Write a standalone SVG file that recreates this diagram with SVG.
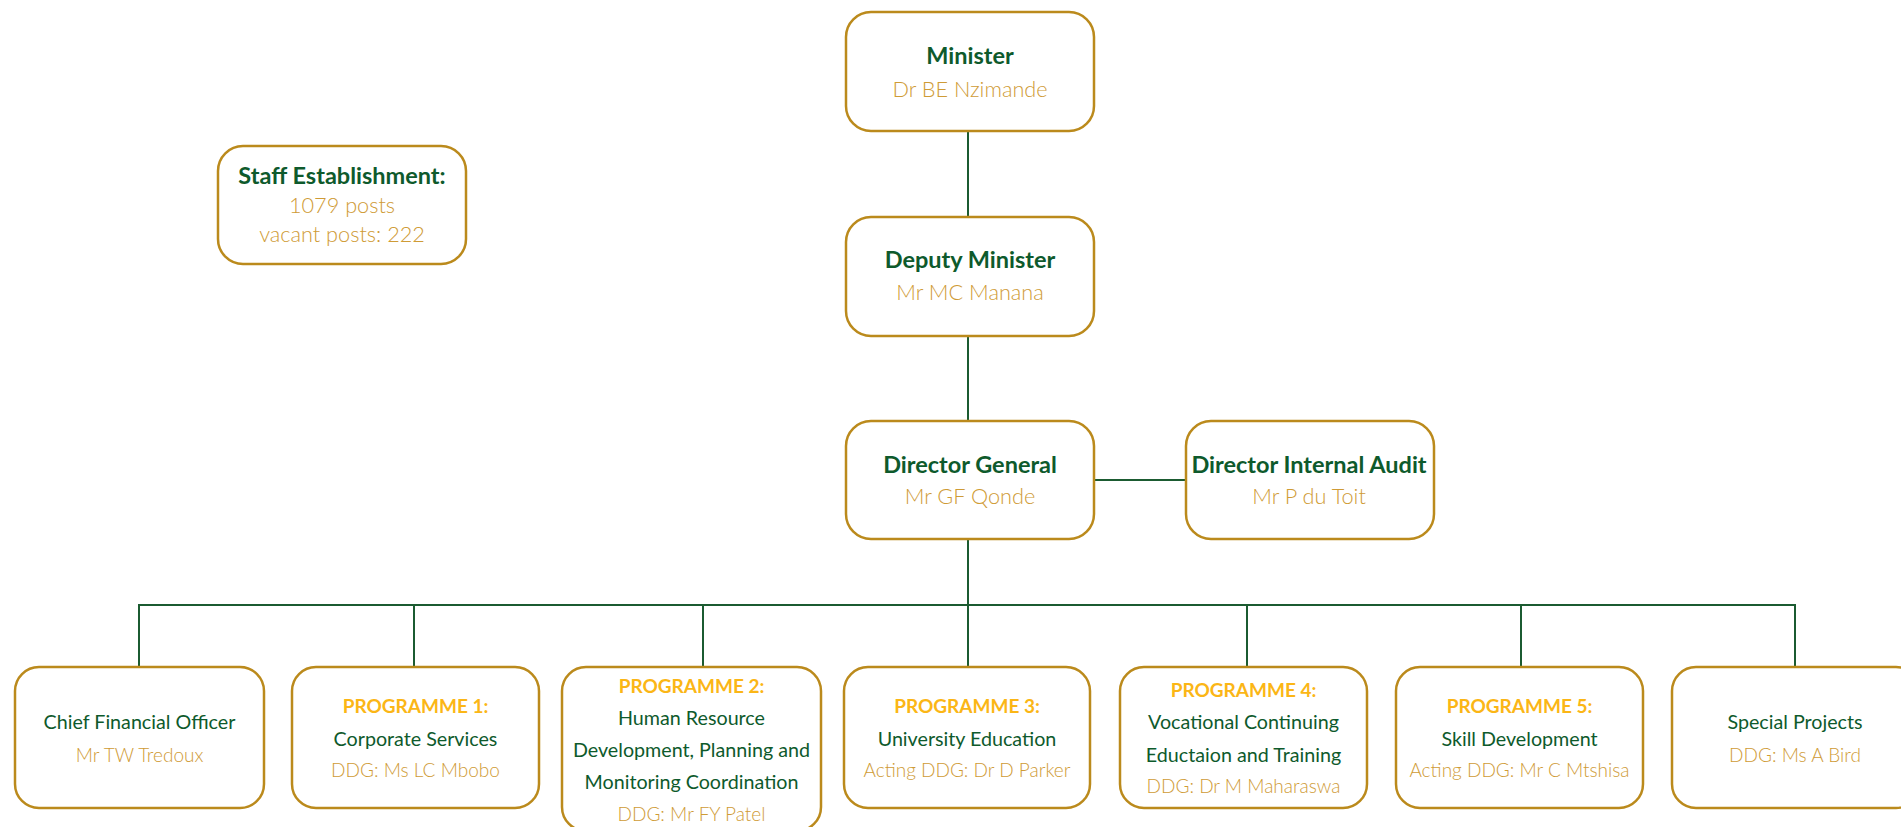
<svg xmlns="http://www.w3.org/2000/svg" width="1901" height="827" viewBox="0 0 1901 827">
  <style>
    .box { fill: #ffffff; stroke: #bb8a1c; stroke-width: 2.5; }
    .wire { fill: none; stroke: #1b5b31; stroke-width: 2; }
    text { font-family: Lato, "Liberation Sans", sans-serif; text-anchor: middle; }
    .head { font-size: 23.5px; font-weight: 700; fill: #0e5a2c; }
    .who { font-size: 21.7px; font-weight: 300; fill: #cf9b36; }
    .title { font-size: 19.7px; font-weight: 400; fill: #0e5a2c; }
    .prog { font-size: 19px; font-weight: 700; fill: #fbb616; }
    .ddg { font-size: 19px; font-weight: 300; fill: #cf9b36; }
  </style>

  <!-- reporting lines -->
  <g id="connectors">
    <line class="wire" x1="968" y1="131" x2="968" y2="217"/>
    <line class="wire" x1="968" y1="336" x2="968" y2="421"/>
    <line class="wire" x1="1094" y1="480" x2="1186" y2="480"/>
    <line class="wire" x1="968" y1="539" x2="968" y2="667"/>
    <polyline class="wire" points="139,667 139,605 1795,605 1795,667"/>
    <line class="wire" x1="414" y1="605" x2="414" y2="667"/>
    <line class="wire" x1="703" y1="605" x2="703" y2="667"/>
    <line class="wire" x1="1247" y1="605" x2="1247" y2="667"/>
    <line class="wire" x1="1521" y1="605" x2="1521" y2="667"/>
  </g>

  <g id="minister">
    <rect class="box" x="846" y="12" width="248" height="119" rx="25"/>
    <text class="head" x="970" y="64">Minister</text>
    <text class="who" x="970" y="97">Dr BE Nzimande</text>
  </g>

  <g id="staff-establishment">
    <rect class="box" x="218" y="146" width="248" height="118" rx="25"/>
    <text class="head" x="342" y="184">Staff Establishment:</text>
    <text class="who" x="342" y="213">1079 posts</text>
    <text class="who" x="342" y="242">vacant posts: 222</text>
  </g>

  <g id="deputy-minister">
    <rect class="box" x="846" y="217" width="248" height="119" rx="25"/>
    <text class="head" x="970" y="268">Deputy Minister</text>
    <text class="who" x="970" y="300">Mr MC Manana</text>
  </g>

  <g id="director-general">
    <rect class="box" x="846" y="421" width="248" height="118" rx="25"/>
    <text class="head" x="970" y="473">Director General</text>
    <text class="who" x="970" y="504">Mr GF Qonde</text>
  </g>

  <g id="director-internal-audit">
    <rect class="box" x="1186" y="421" width="248" height="118" rx="25"/>
    <text class="head" x="1309" y="473">Director Internal Audit</text>
    <text class="who" x="1309" y="504">Mr P du Toit</text>
  </g>

  <g id="cfo">
    <rect class="box" x="15" y="667" width="249" height="141" rx="24"/>
    <text class="title" x="139.5" y="729">Chief Financial Officer</text>
    <text class="ddg" x="139.5" y="762">Mr TW Tredoux</text>
  </g>

  <g id="programme-1">
    <rect class="box" x="292" y="667" width="247" height="141" rx="24"/>
    <text class="prog" x="415.5" y="713">PROGRAMME 1:</text>
    <text class="title" x="415.5" y="746">Corporate Services</text>
    <text class="ddg" x="415.5" y="777">DDG: Ms LC Mbobo</text>
  </g>

  <g id="programme-2">
    <rect class="box" x="562" y="667" width="259" height="164" rx="24"/>
    <text class="prog" x="691.5" y="693">PROGRAMME 2:</text>
    <text class="title" x="691.5" y="725">Human Resource</text>
    <text class="title" x="691.5" y="757">Development, Planning and</text>
    <text class="title" x="691.5" y="789">Monitoring Coordination</text>
    <text class="ddg" x="691.5" y="821">DDG: Mr FY Patel</text>
  </g>

  <g id="programme-3">
    <rect class="box" x="844" y="667" width="246" height="141" rx="24"/>
    <text class="prog" x="967" y="713">PROGRAMME 3:</text>
    <text class="title" x="967" y="746">University Education</text>
    <text class="ddg" x="967" y="777">Acting DDG: Dr D Parker</text>
  </g>

  <g id="programme-4">
    <rect class="box" x="1120" y="667" width="247" height="141" rx="24"/>
    <text class="prog" x="1243.5" y="697">PROGRAMME 4:</text>
    <text class="title" x="1243.5" y="729">Vocational Continuing</text>
    <text class="title" x="1243.5" y="762">Eductaion and Training</text>
    <text class="ddg" x="1243.5" y="793">DDG: Dr M Maharaswa</text>
  </g>

  <g id="programme-5">
    <rect class="box" x="1396" y="667" width="247" height="141" rx="24"/>
    <text class="prog" x="1519.5" y="713">PROGRAMME 5:</text>
    <text class="title" x="1519.5" y="746">Skill Development</text>
    <text class="ddg" x="1519.5" y="777">Acting DDG: Mr C Mtshisa</text>
  </g>

  <g id="special-projects">
    <rect class="box" x="1672" y="667" width="248" height="141" rx="24"/>
    <text class="title" x="1795" y="729">Special Projects</text>
    <text class="ddg" x="1795" y="762">DDG: Ms A Bird</text>
  </g>
</svg>
